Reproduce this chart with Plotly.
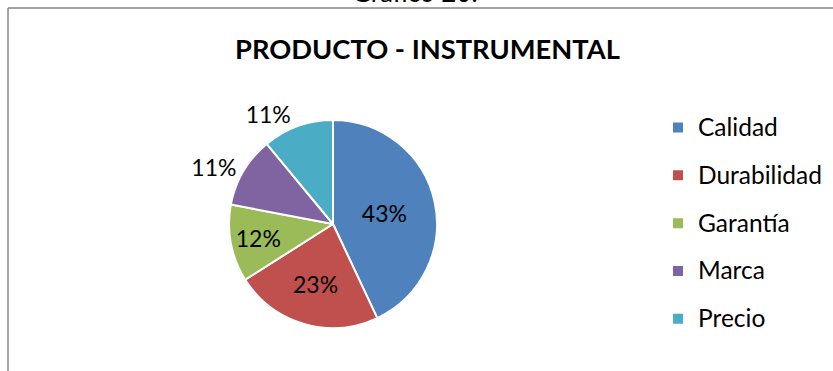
import plotly.graph_objects as go

# Survey results: product attributes valued by instrumental buyers
categories = ["Calidad", "Durabilidad", "Garantía", "Marca", "Precio"]
shares = [43, 23, 12, 11, 11]
label_positions = ["inside", "inside", "inside", "outside", "outside"]
colors = ["#4F81BD", "#C0504D", "#9BBB59", "#8064A2", "#4BACC6"]

chart_title = "PRODUCTO - INSTRUMENTAL"
caption = "Gráfico 20."

FONT = "Lato, Calibri, Carlito, sans-serif"
W, H = 833, 371

# legend entries get a tall line box so the rows sit ~48px apart
legend_text = [
    f"<span style='font-size:24.5px;baseline-shift:5px'>{c}</span>"
    for c in categories
]

fig = go.Figure(
    go.Pie(
        labels=legend_text,
        values=shares,
        sort=False,
        direction="clockwise",
        rotation=0,
        marker=dict(colors=colors, line=dict(color="white", width=2)),
        textinfo="percent",
        texttemplate="%{percent:.0%}",
        textposition=label_positions,
        textfont=dict(family=FONT, size=23, color="black"),
        insidetextorientation="horizontal",
        domain=dict(x=[229 / W, 437 / W], y=[1 - 328 / H, 1 - 120 / H]),
        hoverinfo="label+percent",
    )
)

fig.update_layout(
    width=W,
    height=H,
    margin=dict(l=0, r=0, t=0, b=0),
    paper_bgcolor="white",
    plot_bgcolor="white",
    font=dict(family=FONT, color="black"),
    title=dict(
        text=f"<b>{chart_title}</b>",
        x=427.5 / W,
        xanchor="center",
        y=1 - 49 / H,
        yanchor="middle",
        font=dict(family=FONT, size=27.3, color="black"),
    ),
    showlegend=True,
    legend=dict(
        x=658 / W,
        xanchor="left",
        y=1 - 98.5 / H,
        yanchor="top",
        font=dict(family=FONT, size=34.5, color="black"),
        bgcolor="rgba(0,0,0,0)",
        itemclick=False,
    ),
    annotations=[
        dict(
            text=caption,
            xref="paper",
            yref="paper",
            x=415 / W,
            xanchor="center",
            y=1 + 7.5 / H,
            yanchor="middle",
            showarrow=False,
            font=dict(family=FONT, size=26, color="black"),
        )
    ],
    shapes=[
        # frame around the chart area (top and left edges visible)
        dict(type="line", xref="paper", yref="paper",
             x0=8 / W, x1=1.0, y0=1 - 8 / H, y1=1 - 8 / H,
             line=dict(color="#868686", width=1.5)),
        dict(type="line", xref="paper", yref="paper",
             x0=8 / W, x1=8 / W, y0=0.0, y1=1 - 8 / H,
             line=dict(color="#868686", width=1.5)),
    ],
)

fig.write_html("out.html")
